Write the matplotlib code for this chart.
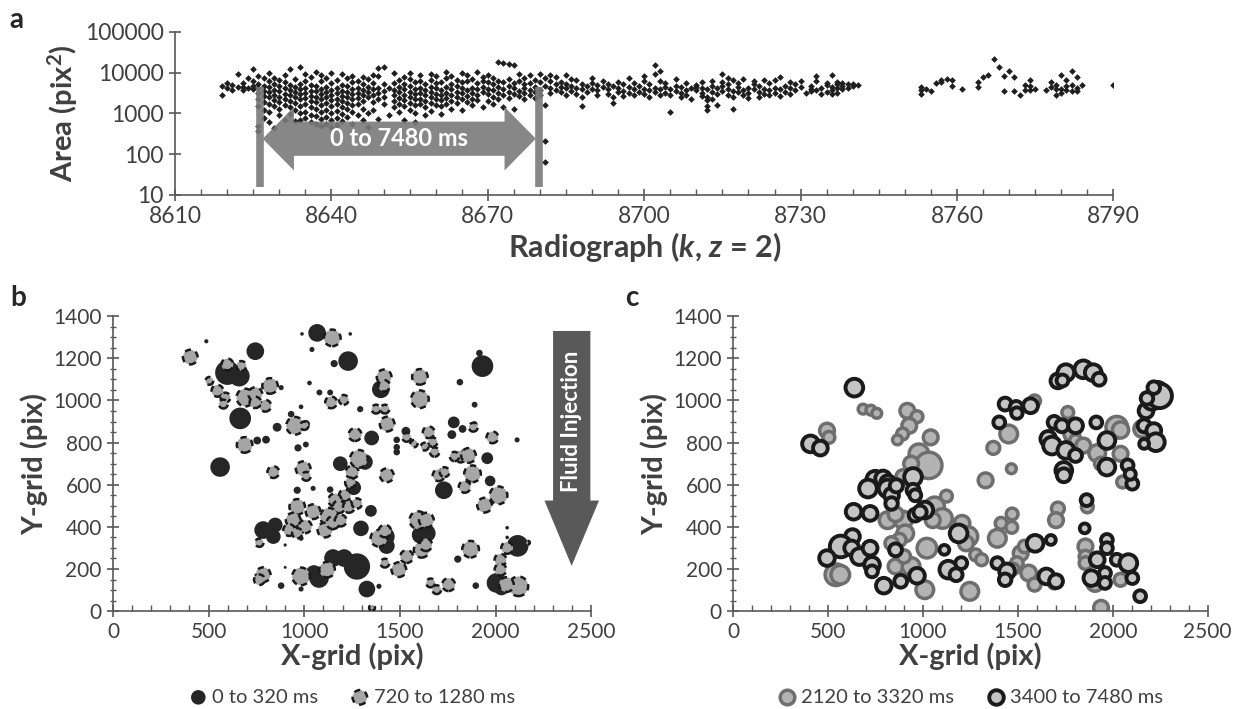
import numpy as np
import matplotlib
matplotlib.use("Agg")
import matplotlib.pyplot as plt
import matplotlib.transforms as mtransforms
from matplotlib.patches import Polygon
from matplotlib.ticker import FixedLocator, MultipleLocator, LogLocator, FuncFormatter, NullFormatter

plt.rcParams['font.family'] = ['Lato', 'DejaVu Sans']
plt.rcParams['mathtext.fontset'] = 'custom'
plt.rcParams['mathtext.rm'] = 'Lato:bold'
plt.rcParams['mathtext.it'] = 'Lato:bold:italic'
plt.rcParams['mathtext.bf'] = 'Lato:bold'

# ---- panel a: feature areas per radiograph ----
radiograph = [8619, 8620, 8621, 8622, 8623, 8624, 8625, 8626, 8627, 8628, 8629, 8630,
              8631, 8632, 8633, 8634, 8635, 8636, 8637, 8638, 8639, 8640, 8641, 8642,
              8643, 8644, 8645, 8646, 8647, 8648, 8649, 8650, 8651, 8652, 8653, 8654,
              8655, 8656, 8657, 8658, 8659, 8660, 8661, 8662, 8663, 8664, 8665, 8666,
              8667, 8668, 8669, 8670, 8671, 8672, 8673, 8674, 8675, 8676, 8677, 8678,
              8679, 8680, 8681, 8682, 8683, 8684, 8685, 8686, 8687, 8688, 8689, 8690,
              8691, 8692, 8693, 8694, 8695, 8696, 8697, 8698, 8699, 8700, 8701, 8702,
              8703, 8704, 8705, 8706, 8707, 8708, 8709, 8710, 8711, 8712, 8713, 8714,
              8715, 8716, 8717, 8718, 8719, 8720, 8721, 8722, 8723, 8724, 8725, 8726,
              8727, 8728, 8729, 8730, 8731, 8732, 8733, 8734, 8735, 8736, 8737, 8738,
              8739, 8740, 8741, 8753, 8754, 8755, 8756, 8757, 8758, 8759, 8761, 8764,
              8765, 8766, 8767, 8768, 8769, 8770, 8771, 8772, 8773, 8774, 8775, 8777,
              8778, 8779, 8780, 8781, 8782, 8783, 8784, 8790]
areas = [
    [2900, 4600], [4200, 5500], [3700, 4900], [4400, 9200], [3800, 5600, 4500],
    [4100, 7200], [3900, 6100, 4700, 12500],
    [4300, 3100, 2200, 1500, 8200, 5300, 500, 380],
    [3600, 2700, 1900, 1200, 780, 4800, 7300],
    [4400, 3300, 2500, 1700, 1100, 6300, 9800, 600],
    [3800, 2900, 2100, 1500, 5200, 7600, 450],
    [4600, 3500, 2600, 1900, 1300, 900, 6800],
    [4100, 3000, 2300, 1600, 5900, 8600, 680],
    [3700, 2800, 2000, 1400, 950, 5100, 12000],
    [4500, 3300, 2500, 1800, 1200, 7000, 640],
    [3900, 3000, 2200, 1500, 1000, 680, 5400, 13500],
    [4300, 3200, 2400, 1700, 1100, 760, 6200, 9500],
    [3600, 2700, 2000, 1400, 900, 620, 4900, 7800],
    [4800, 3500, 2600, 1900, 1300, 860, 560, 10500],
    [4000, 3000, 2200, 1600, 1100, 720, 480, 6100, 8900],
    [4400, 3300, 2500, 1800, 1200, 800, 540, 7300],
    [3800, 2900, 2100, 1500, 1050, 700, 470, 5600, 10000],
    [4200, 3100, 2300, 1700, 1150, 760, 520, 6600],
    [3600, 2700, 2000, 1400, 950, 640, 5100, 9400],
    [4600, 3400, 2500, 1800, 1250, 820, 7200],
    [4000, 3000, 2200, 1600, 1100, 560, 5800, 8300],
    [4300, 3200, 2400, 1700, 900, 6400],
    [3700, 2800, 2000, 1300, 700, 5200, 7700],
    [4500, 3300, 2500, 1000, 460, 6900],
    [3900, 2900, 1900, 1200, 5500, 9000],
    [4200, 3100, 2200, 13000, 8500, 750],
    [3500, 2600, 1700, 5300, 14000],
    [4100, 900],
    [3800, 2800, 2000, 1400, 5700, 9700],
    [4400, 3300, 2400, 1700, 1100, 6500],
    [3900, 2900, 2100, 1500, 700, 5200, 8000],
    [4600, 3400, 2500, 1800, 1200, 7100, 10000],
    [4000, 3000, 2200, 1600, 1000, 600, 5900],
    [4300, 3200, 2300, 1700, 6300, 8800],
    [3700, 2800, 2000, 1400, 900, 5400],
    [4500, 3300, 2500, 1800, 1150, 6800, 9200],
    [4100, 3000, 2200, 1600, 5700, 8400],
    [3800, 2900, 2100, 1500, 950, 6000],
    [4400, 3200, 2400, 1700, 7400, 10500],
    [3900, 2800, 2000, 1300, 5300, 8100],
    [4600, 3400, 2500, 1800, 6800],
    [4100, 3100, 2200, 1200, 5800, 9600],
    [3700, 2700, 1900, 6200, 8700],
    [4300, 3200, 2300, 1600, 7100],
    [3900, 2900, 2100, 5500, 10500],
    [4500, 3300, 1400, 6400, 8000],
    [4000, 3000, 2000, 5900, 9000],
    [3700, 2600, 1700, 5300, 7600],
    [4400, 3100, 2200, 6300, 18000],
    [3900, 2800, 5800, 17000, 1400],
    [4600, 3300, 2400, 7000, 16000],
    [4100, 3000, 1300, 5600, 15000],
    [3600, 2700, 6400, 9300],
    [4300, 3200, 2300, 7500, 5200],
    [3800, 2900, 5600, 8600],
    [4500, 3300, 2400, 6700],
    [3700, 2800, 5900, 9400],
    [4800, 7500, 1600, 210, 65],
    [4200, 3100, 6200, 9000],
    [3800, 5300, 7800],
    [4500, 3300, 6000],
    [4100, 2900, 5200, 8800],
    [3600, 4700, 7100],
    [4300, 3000, 6500],
    [3900, 2600, 5400, 1500],
    [4600, 3400],
    [4000, 5600, 7400],
    [3700, 2800, 5100], [4400, 6300], [3900, 3000, 5400], [4700, 2600, 1800],
    [4100, 3300, 6000], [3600, 2700, 5200], [4400, 3100, 7600], [3900, 2900, 5500],
    [4600, 3400], [4000, 3000, 6100, 8200], [3700, 2600, 5300],
    [4300, 3300, 15500, 9500], [3900, 2800, 6400, 11000], [4500, 3100, 5600],
    [4000, 2900, 1100], [3600, 4800, 6900], [4400, 3200, 2600], [3800, 2900, 5700],
    [4200, 2300], [3700, 5000, 4500], [4300, 3100, 2700, 5800],
    [3900, 2600, 2100, 1500, 1200], [4600, 3300, 2300, 6100], [4100, 3000, 1600],
    [4700, 3600, 9500, 6000], [4000, 2900, 5300, 7200], [3600, 2500, 6500, 1300],
    [4400, 3300, 5600], [3800, 2800, 7100], [4300, 3200, 2400], [3900, 5400, 6400],
    [4600, 3400, 2600], [4000, 3000, 6800], [3700, 5700, 2800], [4300, 3100, 6700],
    [3900, 2700, 7800], [4600, 3300], [4200, 5800, 3000], [3800, 5200], [4400, 6200],
    [3100], [4000, 4800, 3500], [6300, 8500, 3800], [4200, 3000], [4900, 5600, 3400],
    [4500, 3700, 9000, 3000], [5200, 4300, 6000, 3200], [4700, 5700, 3900],
    [5400, 4200], [4800, 5200], [5000],
    [4500, 3800, 3000], [4000], [3600], [5500], [6000, 6500], [7000], [4800, 6800],
    [4000], [6000, 4500], [8000], [9000], [22000], [14000], [8500, 3600], [11000],
    [8000, 3600], [2800], [3800, 5000], [4800, 6500, 3800], [4000], [3800],
    [6000, 4500], [4000, 2800, 5000], [4000, 9000, 3200], [3800, 6500, 4600],
    [11000, 3500, 5000], [8000, 4200, 3500], [5000], [5000],
]

# ---- panel b: 0 to 320 ms (x, y, area) ----
b_early_x = [1067, 1229, 744, 598, 660, 665, 560, 1400, 1931, 1915, 1781, 1352, 1188, 1317,
             1258, 1729, 1956, 1971, 1348, 1296, 785, 848, 838, 1077, 1050, 1150, 1208, 1275,
             1327, 1421, 1430, 1608, 1640, 2115, 2004, 2030,
             488, 988, 1240, 1040, 1156, 1027, 1813, 1079, 1135, 879, 983, 1292, 931, 1008,
             858, 754, 800, 967, 1008, 1483, 1483, 1483, 1531, 1771, 1827, 1890, 1890, 2112,
             963, 1135, 1046, 1142, 983, 1385, 1802, 1896, 1390, 2060, 2060, 900, 900, 879, 983]
b_early_y = [1321, 1187, 1234, 1132, 1116, 915, 684, 1053, 1163, 1225, 896, 822, 700, 708,
             586, 574, 726, 618, 476, 393, 385, 409, 354, 157, 180, 252, 252, 212,
             105, 354, 310, 362, 370, 310, 134, 110,
             1281, 1316, 1316, 1242, 1175, 1083, 1087, 1038, 1038, 1061, 970, 959, 935, 888,
             873, 810, 814, 775, 791, 813, 778, 755, 854, 838, 865, 888, 980, 813,
             574, 577, 583, 456, 346, 362, 247, 121, 118, 396, 350, 314, 208, 121, 105]
b_early_area = [3600, 4400, 3600, 6900, 5000, 5400, 4400, 3600, 5400, 500, 1600, 2500, 2500, 2800,
                2500, 3600, 1600, 1300, 1600, 2800, 3600, 2500, 2500, 4400, 3000, 3600, 3600, 8000,
                3200, 4400, 3000, 3600, 3600, 5400, 4400, 2500,
                200, 150, 150, 300, 600, 250, 500, 400, 400, 300, 250, 450, 500, 800,
                900, 700, 700, 600, 400, 500, 500, 500, 900, 900, 700, 400, 400, 300,
                600, 500, 300, 700, 300, 300, 600, 500, 300, 150, 150, 120, 100, 500, 300]

# ---- panel b: 720 to 1280 ms ----
b_mid_x = [404, 1146, 598, 671, 504, 546, 588, 577, 692, 744, 796, 744, 821, 688, 952, 1000,
           838, 994, 1010, 1417, 1417, 1604, 1604, 1140, 1206, 1433, 1375, 1421, 1265, 1650,
           1671, 1681, 1817, 1858, 1785, 1983, 1883, 1879, 1838, 1702, 1733, 2015, 1942, 1431,
           1250, 1285, 1240, 1212, 1160, 1181, 1233, 1275, 1129, 1108, 1150, 1190, 963, 942,
           1004, 921, 963, 1046, 1390, 1421, 1596, 1638, 1613, 1635, 1535, 1494, 1421, 1869,
           2025, 2025, 2119, 2056, 1754, 1660, 1692, 1119, 983, 785, 765, 765, 2060, 2169,
           1354, 1535, 1629, 1573]
b_mid_y = [1206, 1297, 1171, 1164, 1093, 1046, 1014, 983, 1014, 1030, 975, 991, 1069, 789, 880, 880,
           660, 676, 640, 1112, 1070, 1112, 1006, 991, 1003, 888, 959, 959, 838, 849,
           802, 755, 734, 739, 734, 825, 873, 652, 590, 645, 660, 550, 503, 645,
           660, 723, 610, 550, 527, 495, 495, 511, 448, 385, 420, 430, 495, 432,
           401, 385, 370, 472, 346, 380, 432, 432, 291, 315, 259, 197, 228, 294,
           244, 197, 118, 126, 126, 134, 102, 197, 165, 173, 149, 325, 300, 325,
           16, 825, 781, 795]
b_mid_area = [2500, 3200, 1600, 1100, 700, 1600, 1100, 900, 3600, 2200, 1600, 1500, 2800, 2800, 3600, 800,
              1600, 2500, 900, 2500, 1500, 2800, 3600, 1600, 1100, 2500, 900, 900, 1900, 1600,
              1000, 1000, 1600, 2500, 1000, 1600, 900, 3200, 1600, 1600, 1100, 3600, 2500, 2200,
              1900, 3600, 1200, 1600, 2000, 1800, 1600, 1200, 3600, 2500, 1900, 1600, 2800, 2500,
              2000, 1600, 1200, 2500, 3200, 1800, 3600, 2500, 2800, 1800, 1900, 2500, 900, 3200,
              1600, 1600, 4400, 2500, 1900, 900, 900, 2800, 3600, 2500, 1300, 800, 1600, 150,
              400, 900, 700, 600]

# ---- panel c: 2120 to 3320 ms ----
c_mid_x = [495, 505, 685, 726, 757, 918, 969, 928, 893, 866, 1041, 979, 1031, 938, 1124, 897,
           1062, 1103, 1052, 814, 897, 856, 907, 876, 835, 1021, 856, 938, 900, 1010, 542, 565,
           1206, 1237, 1227, 1278, 1309, 1247, 1330, 1371, 1452, 1466, 1392, 1412, 1468, 1470,
           1567, 1588, 1515, 1536, 1495, 1475, 1557, 1588, 1711, 1701, 1763, 1742, 1784, 1804,
           1845, 1918, 1938, 2021, 2041, 2041, 2052, 2155, 1866, 1856, 1856, 1856, 1907, 1938,
           1938, 2041, 1691]
c_mid_y = [857, 825, 959, 954, 939, 951, 923, 880, 841, 813, 825, 747, 692, 700, 546, 637,
           495, 440, 432, 432, 432, 460, 369, 338, 322, 299, 212, 212, 260, 102, 173, 173,
           417, 354, 322, 267, 244, 94, 621, 775, 841, 676, 346, 417, 398, 461,
           980, 998, 275, 307, 228, 200, 181, 126, 487, 432, 943, 880, 841, 810,
           786, 750, 700, 873, 860, 747, 613, 865, 495, 307, 259, 228, 134, 149,
           16, 149, 134]
c_mid_area = [2500, 1600, 1100, 1100, 1100, 2500, 1600, 2500, 1600, 1100, 2500, 4400, 8000, 2500, 1600, 2500,
              4400, 4400, 2500, 3200, 3600, 2500, 3200, 2000, 2000, 4400, 2500, 3600, 2000, 3600, 5400, 4000,
              2800, 4400, 2500, 1600, 1600, 3600, 2500, 1900, 3600, 1100, 3600, 1600, 1600, 1600,
              1900, 1600, 2500, 1800, 1800, 1500, 2800, 1900, 1900, 2500, 1600, 1600, 2800, 1600,
              2500, 3200, 1900, 5400, 3000, 2500, 1600, 3200, 1600, 2500, 1800, 1800, 3200, 2000,
              2500, 1900, 1600]

# ---- panel c: 3400 to 7480 ms ----
c_late_x = [408, 460, 639, 749, 790, 815, 814, 835, 860, 948, 948, 960, 835, 711, 635, 722,
            959, 1010, 985, 629, 567, 495, 625, 666, 722, 732, 732, 856, 883, 794, 969, 1113,
            1134, 1175, 1202, 1188, 1402, 1433, 1491, 1495, 1567, 1392, 1443, 1433, 1591, 1674,
            1650, 1701, 1711, 1753, 1845, 1897, 1928, 1735, 1660, 1680, 1691, 1732, 1804, 1753,
            1804, 1742, 1742, 1913, 1969, 1969, 2078, 2103, 2092, 1862, 1852, 1969, 1969, 1918,
            1887, 1959, 1959, 2021, 2082, 2103, 2144, 2175, 2206, 2237, 2247, 2180, 2216, 2165,
            2216, 2227, 2165]
c_late_y = [794, 774, 1061, 624, 630, 610, 582, 550, 595, 637, 574, 550, 511, 582, 472, 464,
            456, 480, 470, 354, 307, 252, 300, 259, 299, 220, 189, 291, 142, 121, 168, 291,
            197, 173, 228, 369, 896, 983, 967, 940, 975, 228, 189, 149, 322, 338,
            165, 142, 1093, 1132, 1148, 1132, 1101, 1095, 818, 786, 896, 880, 880, 763,
            739, 668, 645, 896, 810, 684, 692, 605, 650, 527, 393, 338, 299, 244,
            157, 181, 134, 244, 228, 157, 71, 951, 998, 1046, 1022, 1010, 1061, 880,
            857, 802, 794]
c_late_area = [3200, 2500, 3600, 3600, 2800, 2500, 3600, 2500, 2000, 3600, 1900, 1600, 1800, 3600, 2800, 2500,
               1900, 3200, 2000, 2500, 5400, 2800, 2500, 3200, 2500, 2800, 1600, 1900, 1900, 2800, 2800, 1100,
               3600, 1900, 1600, 3600, 1600, 1900, 1900, 1500, 2500, 1600, 2800, 1800, 3200, 1100,
               2800, 2200, 2500, 3200, 3600, 3200, 1900, 1600, 2800, 3600, 1900, 1900, 2500, 3200,
               1900, 3200, 2200, 1600, 3200, 3200, 1600, 1600, 1400, 1600, 1100, 1600, 1600, 2500,
               2800, 1600, 1600, 1600, 3600, 1600, 1600, 2500, 3600, 3600, 6900, 1800, 1800, 1900,
               2500, 3600, 1100]

SCALE = 0.045  # area (pix^2) -> marker size (pt^2)
AX_COL = '#595959'
TXT_COL = '#404040'

fig = plt.figure(figsize=(12.33, 7.09), dpi=100)


def style_axis(ax, tick_size=15):
    for s in ['top', 'right']:
        ax.spines[s].set_visible(False)
    for s in ['left', 'bottom']:
        ax.spines[s].set_color(AX_COL)
        ax.spines[s].set_linewidth(1.2)
    ax.tick_params(which='major', direction='inout', length=9, width=1.2, color=AX_COL,
                   labelsize=tick_size, labelcolor=TXT_COL)
    ax.tick_params(which='minor', direction='in', length=4, width=1, color=AX_COL)
    ax.tick_params(axis='y', which='minor', direction='inout', length=5)


# ---- panel a ----
ax1 = fig.add_axes([0.142, 0.725, 0.761, 0.23])
ax1.set_yscale('log')
xs = [k for k, vals in zip(radiograph, areas) for v in vals]
ys = [v for vals in areas for v in vals]
ax1.plot(xs, ys, linestyle='none', marker='D', markersize=3.4, markeredgewidth=0,
         color='#1f1f1f', zorder=2)
ax1.set_xlim(8610, 8790)
ax1.set_ylim(10, 100000)
ax1.xaxis.set_major_locator(MultipleLocator(30))
ax1.xaxis.set_minor_locator(MultipleLocator(5))
ax1.yaxis.set_major_locator(FixedLocator([10, 100, 1000, 10000, 100000]))
ax1.yaxis.set_minor_locator(LogLocator(base=10, subs=np.arange(2, 10)))
ax1.yaxis.set_major_formatter(FuncFormatter(lambda v, p: '%d' % round(v)))
ax1.yaxis.set_minor_formatter(NullFormatter())
style_axis(ax1, 16.5)
ax1.set_xlabel(r'Radiograph ($k$, $z$ = 2)', fontsize=22, fontweight='bold', color=TXT_COL, labelpad=2)
ax1.set_ylabel(r'Area (pix$^2$)', fontsize=21, fontweight='bold', color=TXT_COL, labelpad=4)

# double arrow spanning the injection period
tr = mtransforms.blended_transform_factory(ax1.transData, ax1.transAxes)
arr_col = '#7a7a7a'
x0, x1 = 8626.8, 8679.2
hl = 6.0
yc, bh, hh = 0.345, 0.105, 0.195
verts = [(x0, yc), (x0 + hl, yc + hh), (x0 + hl, yc + bh), (x1 - hl, yc + bh),
         (x1 - hl, yc + hh), (x1, yc), (x1 - hl, yc - hh), (x1 - hl, yc - bh),
         (x0 + hl, yc - bh), (x0 + hl, yc - hh)]
ax1.add_patch(Polygon(verts, closed=True, transform=tr, facecolor=arr_col, edgecolor='none',
                      alpha=0.9, zorder=3))
for xb in [8626.2, 8679.9]:
    ax1.plot([xb, xb], [0.05, 0.66], transform=tr, color=arr_col, lw=5.5, solid_capstyle='butt',
             alpha=0.9, zorder=3)
ax1.text(0.5 * (x0 + x1), yc, '0 to 7480 ms', transform=tr, ha='center', va='center',
         color='white', fontsize=17, fontweight='bold', zorder=4)

# ---- panel b ----
ax2 = fig.add_axes([0.0916, 0.138, 0.388, 0.416])
ax2.scatter(b_early_x, b_early_y, s=np.array(b_early_area) * SCALE, color='#262626',
            edgecolors='none', label='0 to 320 ms', zorder=2)
ax2.scatter(b_mid_x, b_mid_y, s=np.array(b_mid_area) * SCALE, facecolors='#a6a6a6',
            edgecolors='#1a1a1a', linewidths=1.8, linestyles=(0, (2.5, 2.0)),
            label='720 to 1280 ms', zorder=3)

# fluid injection arrow
fl_col = '#595959'
ax2.add_patch(Polygon([(2300, 1330), (2495, 1330), (2495, 525), (2540, 525), (2397, 215),
                       (2255, 525), (2300, 525)], closed=True, facecolor=fl_col,
                      edgecolor='none', clip_on=False, zorder=4))
ax2.text(2397, 900, 'Fluid Injection', rotation=90, ha='center', va='center', color='white',
         fontsize=16, fontweight='bold', zorder=5)

# ---- panel c ----
ax3 = fig.add_axes([0.5945, 0.138, 0.385, 0.416])
ax3.scatter(c_mid_x, c_mid_y, s=np.array(c_mid_area) * SCALE, facecolors='#b3b3b3',
            edgecolors='#6e6e6e', linewidths=2.5, label='2120 to 3320 ms', zorder=2)
ax3.scatter(c_late_x, c_late_y, s=np.array(c_late_area) * SCALE, facecolors='#c4c4c4',
            edgecolors='#1a1a1a', linewidths=2.8, label='3400 to 7480 ms', zorder=3)

for ax in [ax2, ax3]:
    ax.set_xlim(0, 2500)
    ax.set_ylim(0, 1400)
    ax.xaxis.set_major_locator(MultipleLocator(500))
    ax.xaxis.set_minor_locator(MultipleLocator(100))
    ax.yaxis.set_major_locator(MultipleLocator(200))
    ax.yaxis.set_minor_locator(MultipleLocator(50))
    style_axis(ax, 15)
    ax.set_xlabel('X-grid (pix)', fontsize=21, fontweight='bold', color=TXT_COL, labelpad=0)
    ax.set_ylabel('Y-grid (pix)', fontsize=21, fontweight='bold', color=TXT_COL, labelpad=4)
    leg = ax.legend(loc='upper center', bbox_to_anchor=(0.5, -0.235), ncol=2, frameon=False,
                    fontsize=14.5, handlelength=0.9, handletextpad=0.25, columnspacing=1.6,
                    scatterpoints=1, borderaxespad=0)
    for t in leg.get_texts():
        t.set_color(TXT_COL)
    for h in leg.legend_handles:
        h.set_sizes([110])

# panel letters
fig.text(0.008, 0.972, 'a', fontsize=20, fontweight='bold', color='#262626', va='center')
fig.text(0.008, 0.580, 'b', fontsize=20, fontweight='bold', color='#262626', va='center')
fig.text(0.507, 0.580, 'c', fontsize=20, fontweight='bold', color='#262626', va='center')

fig.savefig('out.png', dpi=100)
